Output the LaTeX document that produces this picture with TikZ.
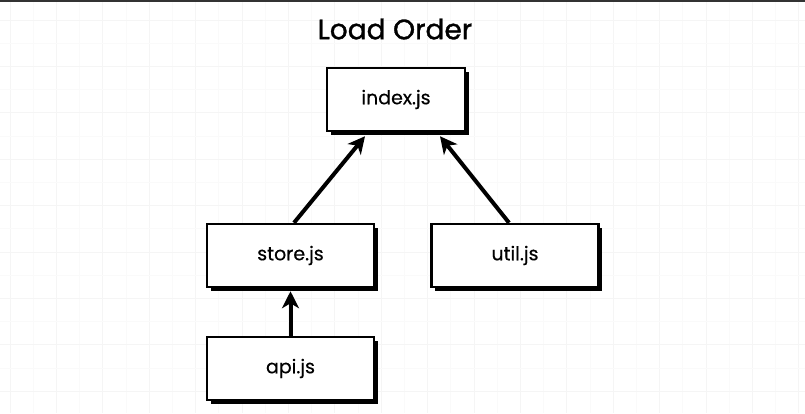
\documentclass[tikz,border=0pt]{standalone}
\usepackage{fontspec}
\setmainfont{Poppins}[FakeBold=0.4]
\newfontfamily\titlefont{Poppins}[FakeBold=1.2]
\usetikzlibrary{arrows.meta,shadows}

\begin{document}
\begin{tikzpicture}[x=1pt, y=-1pt,
  jsbox/.style = {shape=rectangle, draw, line width=2.5pt, fill=white,
    minimum width=167pt, minimum height=63pt, align=center,
    font=\fontsize{19}{23}\selectfont,
    drop shadow={shadow xshift=3.5pt, shadow yshift=-3.5pt, fill=black, opacity=1}},
  every child node/.style = {jsbox},
  edge from parent/.style = {draw=none},
  minor/.style = {line width=1pt, color=black!2},
  major/.style = {line width=1pt, color=black!4},
  dep/.style = {line width=4pt, -{Stealth[length=17pt, width=17pt, inset=5pt]}}]
    \tikzstyle{level 1}=[sibling distance=224.5pt, level distance=156pt]
    \tikzstyle{level 2}=[level distance=113pt]

  % page and grid
  \useasboundingbox (0,0) rectangle (805,413);
  \fill[white] (0,0) rectangle (805,413);
  \foreach \gx in {33.2,79.6,...,805} \draw[minor] (\gx,0) -- (\gx,413);
  \foreach \gx in {10,56.4,...,805} \draw[major] (\gx,0) -- (\gx,413);
  \foreach \gy in {43.2,89.6,...,413} \draw[minor] (0,\gy) -- (805,\gy);
  \foreach \gy in {20,66.4,...,413} \draw[major] (0,\gy) -- (805,\gy);
  \draw[line width=2pt, color=black!80] (0,1) -- (805,1);

  \node[font=\titlefont\fontsize{28}{34}\selectfont] (title) at (395,29) {Load Order};

  \node[jsbox, minimum width=138pt] (index) at (396,99.5) {index.js}
    child[xshift=6.75pt] { node (store) {store.js}
        child {node (api) {api.js}}}
    child[xshift=6.75pt] { node (util) {util.js}};

  \draw[dep] ([xshift=3.5pt]store.north) -- ([xshift=-31pt, yshift=-4pt]index.south);
  \draw[dep] ([xshift=-6pt]util.north) -- ([xshift=44pt, yshift=-4pt]index.south);
  \draw[dep] (api.north) -- ([yshift=-3pt]store.south);
\end{tikzpicture}
\end{document}
